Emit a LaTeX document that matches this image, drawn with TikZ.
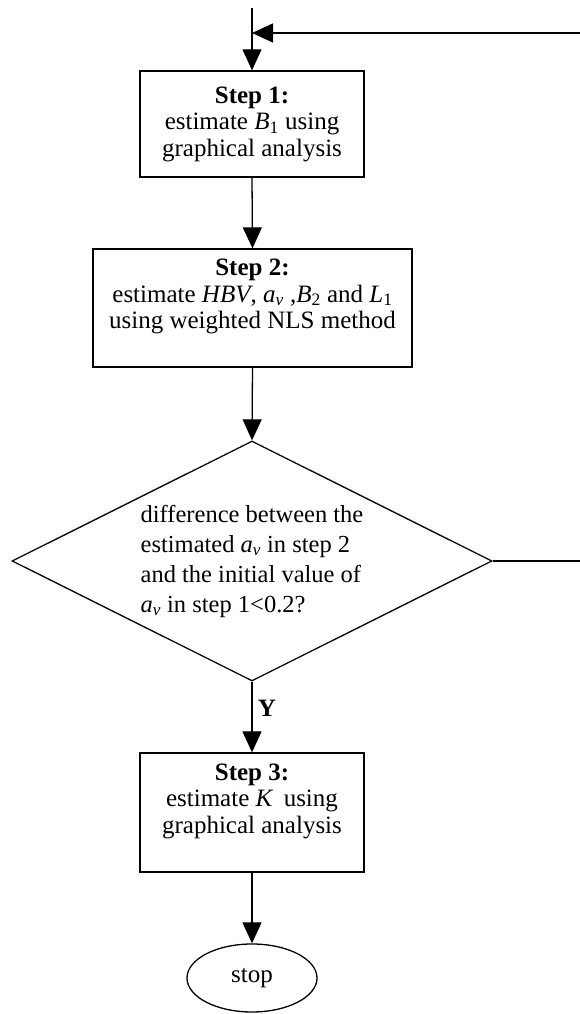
\documentclass[tikz,border=0pt]{standalone}
\usepackage{fontspec}
\setmainfont{Liberation Serif}
\usepackage{tikz}
\usetikzlibrary{arrows.meta}
\usetikzlibrary{shapes.geometric}
\usetikzlibrary{positioning}
\newcommand{\av}{\textit{a}\textsubscript{\textit{v}}}

\tikzset{
    stepbox/.style={draw, line width=1.3pt, align=center, inner sep=0pt,
                    font=\fontsize{25}{26.5}\selectfont},
    flow/.style={line width=1.3pt, -{Triangle[length=21pt,width=19pt]}}
}

\begin{document}
\begin{tikzpicture}[x=1pt, y=1pt]
            \useasboundingbox                                                (0, 0) rectangle (579, 1014);
            \coordinate (start) at (252, 1006);
            \coordinate (merge) at (252,  981);
            \node[stepbox, minimum width=224pt, minimum height=106pt] (step1) at (252, 890)
                 {\textbf{Step 1:}\\estimate \textit{B}\textsubscript{1} using\\graphical analysis};
            \node[stepbox, minimum width=319pt, minimum height=118pt] (step2) at (252.5, 706)
                 {\textbf{Step 2:}\\estimate \textit{HBV}, \av{} ,\textit{B}\textsubscript{2} and \textit{L}\textsubscript{1}\\using weighted NLS method\\[2pt]};
            \node[diamond, draw, line width=1.3pt, aspect=2, inner sep=0pt,
                  minimum width=480pt, minimum height=240pt, align=left,
                  font=\fontsize{24.5}{30}\selectfont] (dec) at (252, 453)
                 {difference between the\\estimated \av{} in step 2\\and the initial value of\\\av{} in step 1<0.2?};
            \node[stepbox, minimum width=224pt, minimum height=119pt] (step3) at (252, 201.5)
                 {\textbf{Step 3:}\\estimate \textit{K}\, using\\graphical analysis\\[2pt]};
            \node[draw, ellipse, line width=1.3pt, minimum width=130pt, minimum height=68pt,
                  inner sep=0pt, font=\fontsize{25}{25}\selectfont] (stop) at (252, 36) {stop};
            % connectors
            \draw[flow] (start) -- (step1.north);
            \draw[flow] (step1.south) -- (step2.north);
            \draw[flow] (step2.south) -- (dec.north);
            \draw[flow] (dec.south) -- (step3.north)
                 node[pos=0.38, right=2pt, font=\fontsize{25}{25}\bfseries] (yes) {Y};
            \draw[flow] (step3.south) -- (stop.north);
            \draw[flow] (dec.east) -- (620, 453) |- (merge);
        \end{tikzpicture}
\end{document}
